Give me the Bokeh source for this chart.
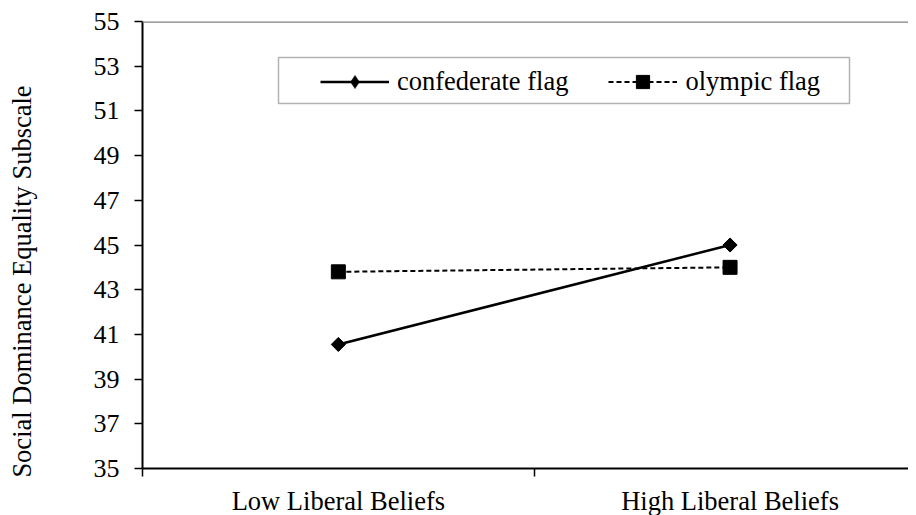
import math
from bokeh.plotting import figure
from bokeh.models import (Range1d, FixedTicker, Span, Legend, LegendItem, BoxAnnotation, Label)
from bokeh.embed import file_html
from bokeh.resources import INLINE

# ---- data ----
categories = ["Low Liberal Beliefs", "High Liberal Beliefs"]
confederate = [40.55, 45.0]
olympic = [43.8, 44.0]
y_ticks = [35, 37, 39, 41, 43, 45, 47, 49, 51, 53, 55]
series_names = ["confederate flag", "olympic flag"]
y_title = "Social Dominance Equality Subscale"

FONT = "Liberation Serif"
FS = "26.5px"
FS_TICK = "26px"

# layout constants (pixels)
CAT_PX = 391.7          # width of one category on screen
UNIT_PX = 447 / 20.0    # pixels per y unit

x_pos = [i + 0.5 for i in range(len(categories))]
x_bounds = list(range(len(categories) + 1))

p = figure(frame_width=766, frame_height=447,
           x_range=Range1d(0, 766 / CAT_PX), y_range=Range1d(y_ticks[0], y_ticks[-1]),
           output_backend="svg", toolbar_location=None,
           min_border_left=142, min_border_right=0, min_border_top=21, min_border_bottom=20)

p.outline_line_color = None
p.xgrid.grid_line_color = None
p.ygrid.grid_line_color = None
p.background_fill_color = "white"
p.border_fill_color = "white"

# top gray line
p.add_layout(Span(location=y_ticks[-1], dimension="width", line_color="#808080", line_width=2.5))

# y axis
p.yaxis.ticker = FixedTicker(ticks=y_ticks)
p.yaxis.axis_line_color = "black"
p.yaxis.axis_line_width = 2
p.yaxis.major_tick_line_color = "black"
p.yaxis.major_tick_line_width = 1.5
p.yaxis.major_tick_out = 8
p.yaxis.major_tick_in = 0
p.yaxis.minor_tick_line_color = None
p.yaxis.major_label_text_font = FONT
p.yaxis.major_label_text_font_size = FS_TICK
p.yaxis.major_label_text_color = "black"
p.yaxis.major_label_standoff = 15

# y axis title, in the left side panel (sits lower than centre, like the reference)
p.add_layout(Label(x=(21 - 142) / CAT_PX, y=y_ticks[-1] - (281 - 21) / UNIT_PX,
                   text=y_title, angle=math.pi / 2,
                   text_align="center", text_baseline="middle",
                   text_font=FONT, text_font_size=FS, text_color="black"), "left")

# x axis
p.xaxis.ticker = FixedTicker(ticks=x_pos, minor_ticks=x_bounds)
p.xaxis.major_label_overrides = {x: c for x, c in zip(x_pos, categories)}
p.xaxis.axis_line_color = "black"
p.xaxis.axis_line_width = 2
p.xaxis.major_tick_line_color = None
p.xaxis.major_tick_out = 0
p.xaxis.major_tick_in = 0
p.xaxis.minor_tick_line_color = "black"
p.xaxis.minor_tick_line_width = 1.5
p.xaxis.minor_tick_out = 8
p.xaxis.minor_tick_in = 0
p.xaxis.major_label_text_font = FONT
p.xaxis.major_label_text_font_size = FS
p.xaxis.major_label_text_color = "black"
p.xaxis.major_label_standoff = 9

# series
l1 = p.line(x_pos, confederate, line_color="black", line_width=2.5)
m1 = p.scatter(x_pos, confederate, marker="square", size=10, angle=math.pi / 4,
               fill_color="black", line_color="black")
m1_leg = p.scatter(x_pos, confederate, marker="diamond", size=0,
                   fill_color="black", line_color="black", line_width=0.5)
l2 = p.line(x_pos, olympic, line_color="black", line_width=2, line_dash="5 3")
m2 = p.scatter(x_pos, olympic, marker="square", size=14,
               fill_color="black", line_color="black")

# legend box
box = BoxAnnotation(left=(278 - 142) / CAT_PX, right=(849 - 142) / CAT_PX,
                    top=55 - 36 / UNIT_PX, bottom=55 - 82 / UNIT_PX,
                    fill_color="white", fill_alpha=1, line_color="black", line_width=1.5,
                    level="underlay")
p.add_layout(box)

legend = Legend(items=[LegendItem(label=series_names[0], renderers=[l1, m1_leg]),
                       LegendItem(label=series_names[1], renderers=[l2, m2])],
                location=(178, 370), orientation="horizontal",
                padding=8, spacing=40, glyph_width=69, glyph_height=33,
                label_standoff=8, label_text_font=FONT, label_text_font_size=FS,
                label_text_color="black", border_line_color=None,
                background_fill_alpha=0, margin=0)
p.add_layout(legend, "center")

open("out.html", "w").write(file_html(p, INLINE))
